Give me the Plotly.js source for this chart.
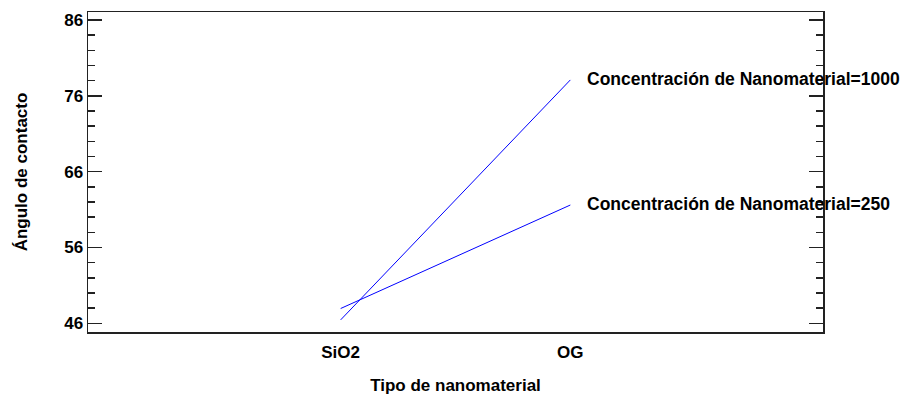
<!DOCTYPE html>
<html>
<head>
<meta charset="utf-8">
<script src="https://cdn.plot.ly/plotly-3.0.1.min.js"></script>
<style>html,body{margin:0;padding:0;background:#fff;}#chart{width:904px;height:396px;}</style>
</head>
<body>
<div id="chart"></div>
<script>
const categories = ['SiO2', 'OG'];
const seriesNames = ['Concentración de Nanomaterial=1000', 'Concentración de Nanomaterial=250'];
const values1000 = [46.45, 78.1];
const values250 = [47.95, 61.6];
const yTickVals = [46, 56, 66, 76, 86];

const FONT = {family: '"Liberation Sans", Arial, sans-serif', size: 17, color: '#000', weight: 'bold'};
const ANNO_FONT = {family: '"Liberation Sans", Arial, sans-serif', size: 17.5, color: '#000', weight: 'bold'};

const allSeries = [values1000, values250];
const traces = allSeries.map((vals, i) => ({
  type: 'scatter', mode: 'lines',
  x: categories, y: vals,
  line: {color: '#0000ff', width: 1},
  name: seriesNames[i], showlegend: false, hoverinfo: 'skip'
}));

const annotations = allSeries.map((vals, i) => ({
  x: categories[categories.length - 1], y: vals[vals.length - 1],
  xref: 'x', yref: 'y', text: seriesNames[i], showarrow: false,
  xanchor: 'left', yanchor: 'middle', xshift: 15, yshift: 1,
  font: ANNO_FONT
}));

const layout = {
  width: 904, height: 396,
  margin: {l: 88, r: 81, t: 12, b: 64},
  paper_bgcolor: '#fff', plot_bgcolor: '#fff',
  font: FONT,
  showlegend: false,
  xaxis: {
    type: 'category', range: [-1.1, 2.1],
    showline: true, linecolor: '#222', linewidth: 1.5, mirror: true,
    ticks: '', showgrid: false, zeroline: false,
    tickfont: FONT, ticklabelstandoff: 4,
    title: {text: 'Tipo de nanomaterial', font: FONT, standoff: 18}
  },
  yaxis: {
    range: [44.85, 87.06],
    tickvals: yTickVals, ticktext: yTickVals.map(String),
    ticks: 'inside', ticklen: 14, tickwidth: 1.5, tickcolor: '#222',
    minor: {dtick: 2, tick0: 46, ticks: 'inside', ticklen: 7, tickwidth: 1.5, tickcolor: '#222', showgrid: false},
    showline: true, linecolor: '#222', linewidth: 1.5, mirror: 'allticks',
    showgrid: false, zeroline: false,
    tickfont: FONT,
    title: {text: 'Ángulo de contacto', font: FONT, standoff: 32}
  },
  annotations: annotations
};

Plotly.newPlot('chart', traces, layout, {staticPlot: true, displayModeBar: false});
</script>
</body>
</html>
